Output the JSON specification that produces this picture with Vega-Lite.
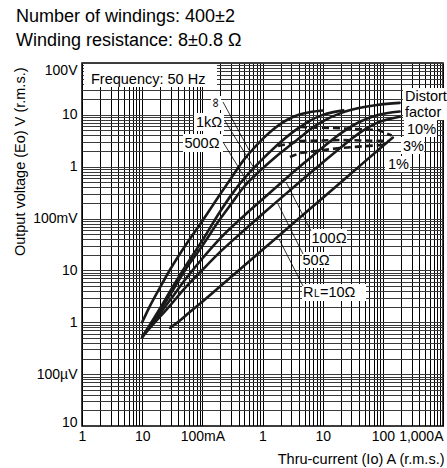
{
  "$schema": "https://vega.github.io/schema/vega-lite/v6.json",
  "autosize": {"type": "none"},
  "padding": {"left": 82, "top": 63, "right": 4, "bottom": 42},
  "width": 361,
  "height": 363,
  "background": "#ffffff",
  "config": {"font": "Liberation Sans", "view": {"stroke": "#000000", "strokeWidth": 1.5}},
  "title": {
    "text": ["Number of windings: 400±2", "Winding resistance: 8±0.8 Ω"],
    "anchor": "start", "frame": "group", "fontSize": 18, "fontWeight": "normal",
    "color": "#000000", "lineHeight": 24.5, "dx": -66, "dy": 20, "baseline": "bottom", "offset": 15
  },
  "encoding": {
    "x": {
      "field": "I", "type": "quantitative",
      "scale": {"type": "log", "domain": [0.001, 1000], "nice": false},
      "axis": {
        "values": [0.001,0.002,0.003,0.004,0.005,0.006,0.007,0.008,0.009,0.01,0.02,0.03,0.04,0.05,0.06,0.07,0.08,0.09,0.1,0.2,0.3,0.4,0.5,0.6,0.7,0.8,0.9,1,2,3,4,5,6,7,8,9,10,20,30,40,50,60,70,80,90,100,200,300,400,500,600,700,800,900,1000],
        "labelExpr": "datum.value == 0.001 ? '1' : datum.value == 0.01 ? '10' : datum.value == 0.1 ? '100mA' : datum.value == 1 ? '1' : datum.value == 10 ? '10' : datum.value == 100 ? '100' : datum.value == 1000 ? '1,000A' : ''",
        "labelAlign": {"expr": "datum.value > 500 ? 'right' : 'center'"},
        "labelFlush": false, "labelOverlap": false, "labelFontSize": 14, "labelColor": "#000000", "labelPadding": 3,
        "ticks": false, "domain": false, "grid": true, "gridColor": "#000000", "gridWidth": 1, "gridOpacity": 1,
        "title": "Thru-current (Io) A (r.m.s.)", "titleFontSize": 14.5, "titleFontWeight": "normal", "titleColor": "#000000",
        "titleX": 362, "titleY": 37, "titleAlign": "right", "titleBaseline": "alphabetic", "titleAnchor": "end"
      }
    },
    "y": {
      "field": "V", "type": "quantitative",
      "scale": {"type": "log", "domain": [0.00001, 100], "nice": false},
      "axis": {
        "values": [0.00001,0.00002,0.00003,0.00004,0.00005,0.00006,0.00007,0.00008,0.00009,0.0001,0.0002,0.0003,0.0004,0.0005,0.0006,0.0007,0.0008,0.0009,0.001,0.002,0.003,0.004,0.005,0.006,0.007,0.008,0.009,0.01,0.02,0.03,0.04,0.05,0.06,0.07,0.08,0.09,0.1,0.2,0.3,0.4,0.5,0.6,0.7,0.8,0.9,1,2,3,4,5,6,7,8,9,10,20,30,40,50,60,70,80,90,100],
        "labelExpr": "datum.value == 100 ? '100V' : datum.value == 10 ? '10' : datum.value == 1 ? '1' : datum.value == 0.1 ? '100mV' : datum.value == 0.01 ? '10' : datum.value == 0.001 ? '1' : datum.value == 0.0001 ? '100µV' : datum.value == 0.00001 ? '10' : ''",
        "labelBaseline": {"expr": "datum.value > 50 ? 'top' : datum.value < 0.00002 ? 'alphabetic' : 'middle'"},
        "labelFlush": false, "labelOverlap": false, "labelFontSize": 14, "labelColor": "#000000", "labelPadding": 5,
        "ticks": false, "domain": false, "grid": true, "gridColor": "#3a3a3a", "gridWidth": 1, "gridOpacity": 1,
        "title": "Output voltage (Eo) V (r.m.s.)", "titleFontSize": 14.5, "titleFontWeight": "normal", "titleColor": "#000000",
        "titleX": -57.5, "titleY": 4, "titleAngle": -90, "titleAlign": "right", "titleBaseline": "alphabetic", "titleAnchor": "end"
      }
    }
  },
  "layer": [
    {
      "data": {"values": [
        {"I": 0.00108, "I2": 0.1752, "V": 95.7, "V2": 34.45},
        {"I": 0.1393, "I2": 0.2043, "V": 23.1, "V2": 12.41},
        {"I": 0.0727, "I2": 0.2291, "V": 10.86, "V2": 4.883},
        {"I": 0.04772, "I2": 0.2206, "V": 4.274, "V2": 1.921},
        {"I": 6.16, "I2": 25.37, "V": 0.06293, "V2": 0.02959},
        {"I": 4.534, "I2": 12.74, "V": 0.02266, "V2": 0.01114},
        {"I": 4.534, "I2": 52.51, "V": 0.005475, "V2": 0.002573},
        {"I": 216.4, "I2": 1300, "V": 32.95, "V2": 7.958},
        {"I": 224.7, "I2": 795, "V": 7.958, "V2": 3.741},
        {"I": 200.4, "I2": 483.4, "V": 3.741, "V2": 1.759},
        {"I": 108.6, "I2": 282.8, "V": 1.609, "V2": 0.7908}
      ]},
      "mark": {"type": "rect", "fill": "#ffffff", "stroke": null},
      "encoding": {"x2": {"field": "I2"}, "y2": {"field": "V2"}}
    },
    {
      "data": {"values": [
        {"c": "inf", "I": 0.01, "V": 0.001}, {"c": "inf", "I": 0.013, "V": 0.0019}, {"c": "inf", "I": 0.02, "V": 0.0048},
        {"c": "inf", "I": 0.03, "V": 0.011}, {"c": "inf", "I": 0.05, "V": 0.028}, {"c": "inf", "I": 0.1, "V": 0.09},
        {"c": "inf", "I": 0.2, "V": 0.3}, {"c": "inf", "I": 0.3, "V": 0.6}, {"c": "inf", "I": 0.5, "V": 1.4},
        {"c": "inf", "I": 0.7, "V": 2.2}, {"c": "inf", "I": 1, "V": 3.4}, {"c": "inf", "I": 1.5, "V": 5.2},
        {"c": "inf", "I": 2, "V": 6.7}, {"c": "inf", "I": 3, "V": 8.8}, {"c": "inf", "I": 4, "V": 10},
        {"c": "inf", "I": 6, "V": 11.2}, {"c": "inf", "I": 10, "V": 12.1},
        {"c": "1k", "I": 0.01, "V": 0.00052}, {"c": "1k", "I": 0.015, "V": 0.0011}, {"c": "1k", "I": 0.02, "V": 0.0019},
        {"c": "1k", "I": 0.03, "V": 0.0042}, {"c": "1k", "I": 0.05, "V": 0.011}, {"c": "1k", "I": 0.1, "V": 0.038},
        {"c": "1k", "I": 0.2, "V": 0.14}, {"c": "1k", "I": 0.3, "V": 0.28}, {"c": "1k", "I": 0.5, "V": 0.6},
        {"c": "1k", "I": 0.7, "V": 0.92}, {"c": "1k", "I": 1, "V": 1.4}, {"c": "1k", "I": 2, "V": 3.0},
        {"c": "1k", "I": 3, "V": 4.4}, {"c": "1k", "I": 4, "V": 5.6}, {"c": "1k", "I": 6, "V": 7.6},
        {"c": "1k", "I": 10, "V": 10}, {"c": "1k", "I": 15, "V": 11.3}, {"c": "1k", "I": 22, "V": 12.2},
        {"c": "500", "I": 0.01, "V": 0.00052}, {"c": "500", "I": 0.015, "V": 0.001}, {"c": "500", "I": 0.02, "V": 0.0017},
        {"c": "500", "I": 0.03, "V": 0.0036}, {"c": "500", "I": 0.05, "V": 0.0095}, {"c": "500", "I": 0.1, "V": 0.03},
        {"c": "500", "I": 0.2, "V": 0.1}, {"c": "500", "I": 0.3, "V": 0.19}, {"c": "500", "I": 0.5, "V": 0.42},
        {"c": "500", "I": 1, "V": 0.92}, {"c": "500", "I": 2, "V": 1.85}, {"c": "500", "I": 4, "V": 3.5},
        {"c": "500", "I": 7, "V": 5.8}, {"c": "500", "I": 10, "V": 7.5}, {"c": "500", "I": 20, "V": 10.8},
        {"c": "500", "I": 40, "V": 13.5}, {"c": "500", "I": 80, "V": 15.5}, {"c": "500", "I": 190, "V": 17},
        {"c": "100", "I": 0.01, "V": 0.00052}, {"c": "100", "I": 0.015, "V": 0.00095}, {"c": "100", "I": 0.02, "V": 0.0015},
        {"c": "100", "I": 0.03, "V": 0.0028}, {"c": "100", "I": 0.05, "V": 0.0063}, {"c": "100", "I": 0.1, "V": 0.017},
        {"c": "100", "I": 0.2, "V": 0.042}, {"c": "100", "I": 0.5, "V": 0.115}, {"c": "100", "I": 1, "V": 0.235},
        {"c": "100", "I": 2, "V": 0.48}, {"c": "100", "I": 5, "V": 1.2}, {"c": "100", "I": 10, "V": 2.35},
        {"c": "100", "I": 20, "V": 4.4}, {"c": "100", "I": 40, "V": 7.2}, {"c": "100", "I": 80, "V": 9.8},
        {"c": "100", "I": 190, "V": 11.6},
        {"c": "50", "I": 0.01, "V": 0.00052}, {"c": "50", "I": 0.015, "V": 0.0009}, {"c": "50", "I": 0.02, "V": 0.0013},
        {"c": "50", "I": 0.03, "V": 0.0022}, {"c": "50", "I": 0.05, "V": 0.0044}, {"c": "50", "I": 0.1, "V": 0.0102},
        {"c": "50", "I": 0.2, "V": 0.023}, {"c": "50", "I": 0.5, "V": 0.06}, {"c": "50", "I": 1, "V": 0.122},
        {"c": "50", "I": 2, "V": 0.245}, {"c": "50", "I": 5, "V": 0.61}, {"c": "50", "I": 10, "V": 1.2},
        {"c": "50", "I": 20, "V": 2.35}, {"c": "50", "I": 40, "V": 4.4}, {"c": "50", "I": 80, "V": 7.0},
        {"c": "50", "I": 190, "V": 9.2},
        {"c": "10", "I": 0.029, "V": 0.00078}, {"c": "10", "I": 0.04, "V": 0.00102}, {"c": "10", "I": 0.06, "V": 0.00152},
        {"c": "10", "I": 0.1, "V": 0.0025}, {"c": "10", "I": 0.3, "V": 0.0075}, {"c": "10", "I": 1, "V": 0.025},
        {"c": "10", "I": 3, "V": 0.075}, {"c": "10", "I": 10, "V": 0.25}, {"c": "10", "I": 30, "V": 0.75},
        {"c": "10", "I": 100, "V": 2.5}, {"c": "10", "I": 147, "V": 3.65}
      ]},
      "mark": {"type": "line", "color": "#1a1a1a", "strokeWidth": 2.6, "interpolate": "monotone", "strokeCap": "round"},
      "encoding": {"detail": {"field": "c"}}
    },
    {
      "data": {"values": [
        {"d": "10%", "I": 4.2, "V": 5.83}, {"d": "10%", "I": 20, "V": 5.5}, {"d": "10%", "I": 85, "V": 5.1}, {"d": "10%", "I": 140, "V": 4.0},
        {"d": "3%", "I": 1.81, "V": 2.51}, {"d": "3%", "I": 4.2, "V": 3.13}, {"d": "3%", "I": 19.4, "V": 3.27}, {"d": "3%", "I": 125, "V": 3.13},
        {"d": "1%", "I": 2.86, "V": 1.54}, {"d": "1%", "I": 4.2, "V": 1.84}, {"d": "1%", "I": 19.4, "V": 2.3}, {"d": "1%", "I": 104.5, "V": 2.64}
      ]},
      "mark": {"type": "line", "color": "#1a1a1a", "strokeWidth": 2.6, "strokeDash": [7, 4]},
      "encoding": {"detail": {"field": "d"}}
    },
    {
      "data": {"values": [
        {"I": 0.2206, "V": 17.7, "I2": 0.5963, "V2": 2.1},
        {"I": 0.238, "V": 7.614, "I2": 0.7225, "V2": 0.9445},
        {"I": 0.2206, "V": 2.996, "I2": 0.5741, "V2": 0.4853},
        {"I": 6.397, "V": 0.05758, "I2": 2.457, "V2": 0.5073},
        {"I": 4.711, "V": 0.02074, "I2": 1.81, "V2": 0.191},
        {"I": 4.711, "V": 0.005008, "I2": 1.88, "V2": 0.04036}
      ]},
      "mark": {"type": "rule", "color": "#000000", "strokeWidth": 0.8},
      "encoding": {"x2": {"field": "I2"}, "y2": {"field": "V2"}}
    },
    {
      "data": {"values": [
        {"t": "Frequency: 50 Hz", "I": 0.001411, "V": 40.24},
        {"t": "R", "I": 4.711, "V": 0.003073},
        {"t": "=10Ω", "I": 9.031, "V": 0.003073},
        {"t": "Distortion", "I": 233.6, "V": 18.5},
        {"t": "factor", "I": 233.6, "V": 9.093},
        {"t": "10%", "I": 252.2, "V": 4.274},
        {"t": "3%", "I": 216.4, "V": 2.009},
        {"t": "1%", "I": 121.9, "V": 0.9035}
      ]},
      "mark": {"type": "text", "align": "left", "baseline": "alphabetic", "fontSize": 14.5, "color": "#000000"},
      "encoding": {"text": {"field": "t"}}
    },
    {
      "data": {"values": [
        {"t": "1kΩ", "I": 0.1291, "V": 5.833},
        {"t": "500Ω", "I": 0.09874, "V": 2.296},
        {"t": "100Ω", "I": 12.74, "V": 0.0338},
        {"t": "50Ω", "I": 7.747, "V": 0.01272}
      ]},
      "mark": {"type": "text", "align": "center", "baseline": "alphabetic", "fontSize": 14.5, "color": "#000000"},
      "encoding": {"text": {"field": "t"}}
    },
    {
      "data": {"values": [{"t": "L", "I": 7.177, "V": 0.003073}]},
      "mark": {"type": "text", "align": "left", "baseline": "alphabetic", "fontSize": 10, "color": "#000000"},
      "encoding": {"text": {"field": "t"}}
    },
    {
      "data": {"values": [{"t": "∞", "I": 0.1687, "V": 16.93}]},
      "mark": {"type": "text", "align": "center", "baseline": "middle", "fontSize": 13, "angle": 90, "color": "#000000"},
      "encoding": {"text": {"field": "t"}}
    }
  ]
}
